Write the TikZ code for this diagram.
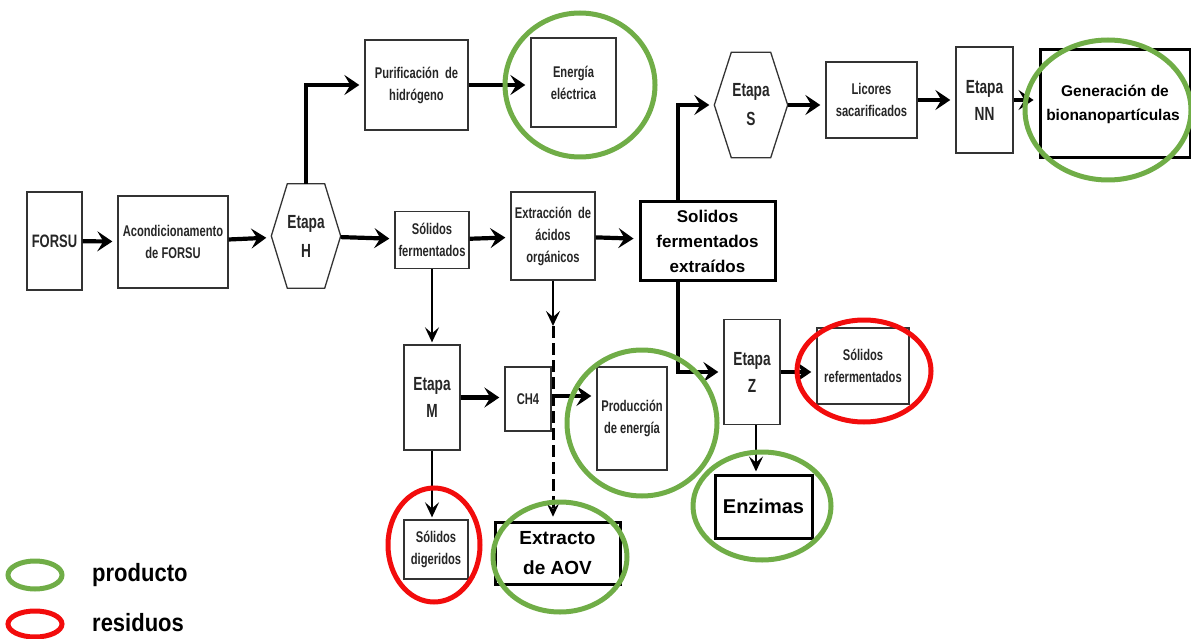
\documentclass[tikz,border=0pt]{standalone}
\usepackage{fontspec}
\setmainfont{Liberation Sans}
\newfontfamily\narrowsans[FakeStretch=0.72]{Liberation Sans}
\newfontfamily\legendsans[FakeStretch=0.88]{Liberation Sans}
\usetikzlibrary{arrows.meta}
\definecolor{prodgreen}{HTML}{70AD47}
\definecolor{wastered}{HTML}{F20C0C}

% outline of an elongated hexagon laid over a plain node
\newcommand\hexframe[2]{%
  \draw[hexline] ([xshift=#2pt]#1.north west) -- ([xshift=-#2pt]#1.north east)
    -- (#1.east) -- ([xshift=-#2pt]#1.south east)
    -- ([xshift=#2pt]#1.south west) -- (#1.west) -- cycle;}

\tikzset{
  box/.style={draw=black!80, line width=1.3pt, fill=white, align=center,
    inner sep=0pt, text=black!85,
    font=\narrowsans\bfseries\fontsize{15.5}{22}\selectfont},
  stagebox/.style={box, font=\narrowsans\bfseries\fontsize{19}{27}\selectfont},
  hexnode/.style={inner sep=0pt, align=center, text=black!85,
    font=\narrowsans\bfseries\fontsize{19}{29}\selectfont},
  hexline/.style={draw=black!80, line width=1.3pt, line join=miter},
  keybox/.style={draw=black, line width=3pt, fill=white, align=center,
    inner sep=0pt, font=\bfseries\fontsize{17}{25}\selectfont},
  flow/.style={draw=black, line width=4.2pt, shorten >=5pt,
    -{Stealth[length=15pt,width=20pt,inset=6pt]}},
  thinflow/.style={draw=black, line width=2.6pt, shorten >=2pt,
    -{Stealth[length=15pt,width=14pt,inset=6pt]}},
  dashflow/.style={draw=black, line width=3pt, dash pattern=on 12pt off 5pt,
    shorten >=2pt, -{Stealth[length=13pt,width=12pt,inset=5pt,sep]}},
  product/.style={draw=prodgreen, line width=5pt},
  waste/.style={draw=wastered, line width=5pt},
}

\begin{document}
\begin{tikzpicture}[x=1pt, y=-1pt]
\useasboundingbox (0,0) rectangle (1191,639);

% main line
\node[box, minimum width=55pt, minimum height=98pt,
  font=\narrowsans\bfseries\fontsize{18}{20}\selectfont] (forsu) at (54.5,241) {FORSU};
\node[box, minimum width=110pt, minimum height=92pt] (acond) at (173,242)
  {Acondicionamento\\de FORSU};
\node[hexnode, minimum width=69pt, minimum height=104pt] (etH) at (306,236) {Etapa\\H};
\hexframe{etH}{16}
\node[box, minimum width=74pt, minimum height=57pt] (solf) at (432,240)
  {Sólidos\\fermentados};
\node[box, minimum width=84pt, minimum height=88pt,
  font=\narrowsans\bfseries\fontsize{15.5}{22}\selectfont] (extr) at (553,236)
  {Extracción \ de\\ácidos\\orgánicos};
\node[keybox, minimum width=135pt, minimum height=78pt] (sfe) at (707.5,241)
  {Solidos\\fermentados\\extraídos};
\coordinate (br) at (678,241);

% hydrogen branch
\node[box, minimum width=103pt, minimum height=90pt] (puri) at (416.5,85)
  {Purificación \ de\\hidrógeno};
\node[box, minimum width=85pt, minimum height=89pt] (ener) at (573.5,82.5)
  {Energía\\eléctrica};

% upper branch
\node[hexnode, minimum width=73pt, minimum height=105pt] (etS) at (751,105) {Etapa\\S};
\hexframe{etS}{17}
\node[box, minimum width=91pt, minimum height=76pt] (lico) at (871.5,100)
  {Licores\\sacarificados};
\node[stagebox, minimum width=57pt, minimum height=106pt] (etNN) at (984.5,100) {Etapa\\NN};
\node[keybox, minimum width=150pt, minimum height=108pt,
  font=\bfseries\fontsize{15.5}{24}\selectfont] (gen) at (1115,104)
  {Generación de\\bionanopartículas\hspace*{4pt}};

% methane branch
\node[stagebox, minimum width=56pt, minimum height=105pt] (etM) at (432,397.5) {Etapa\\M};
\node[box, minimum width=46pt, minimum height=64pt] (ch4) at (528,399) {CH4};
\node[box, minimum width=70pt, minimum height=103pt] (prod) at (632,418.5)
  {Producción\\de energía};
\node[box, minimum width=64pt, minimum height=59pt] (digr) at (436,549.5)
  {Sólidos\\digeridos};
\node[keybox, minimum width=125pt, minimum height=62pt,
  font=\bfseries\fontsize{19}{30}\selectfont] (aov) at (557.5,553) {Extracto\\de AOV};

% lower branch
\node[stagebox, minimum width=56pt, minimum height=105pt] (etZ) at (752,372) {Etapa\\Z};
\node[box, minimum width=92pt, minimum height=76pt] (refe) at (863,366)
  {Sólidos\\refermentados};
\node[keybox, minimum width=97pt, minimum height=63pt,
  font=\bfseries\fontsize{20}{24}\selectfont] (enz) at (763.5,506.5) {Enzimas};

% connectors
\draw[flow] (forsu) -- (acond);
\draw[flow] (acond) -- (etH);
\draw[flow] (etH) -- (solf);
\draw[flow] (solf) -- (extr);
\draw[flow] (extr) -- (sfe);
\draw[flow] (etH.north) |- (puri.west);
\draw[flow] (puri) -- (ener.west |- puri.east);
\draw[flow] (sfe.north -| br) |- (etS.west);
\draw[flow] (sfe.south -| br) |- (etZ.west);
\draw[flow] (etS) -- (lico.west |- etS.east);
\draw[flow] (lico) -- (etNN);
\draw[flow] (etNN) -- (gen.west |- etNN.east);
\draw[thinflow] (solf.south) -- (etM.north);
\draw[flow] (etM) -- (ch4.west |- etM.east);
\draw[flow] ([yshift=3pt]ch4.east) -- ([yshift=3pt]ch4.east -| prod.west);
\draw[thinflow] (etM.south) -- (etM.south |- digr.north);
\coordinate (dsh) at (553,326);
\draw[thinflow, shorten >=0pt] (extr.south) -- (dsh);
\draw[dashflow] (dsh) -- (dsh |- aov.north);
\draw[flow] (etZ) -- (refe.west |- etZ.east);
\draw[thinflow] ([xshift=4pt]etZ.south) -- ([xshift=4pt]etZ.south |- enz.north);

% outcome rings
\draw[product] (580,85) ellipse [x radius=75, y radius=72];
\draw[product] (1108,110) ellipse [x radius=83, y radius=70];
\draw[product] (642,423) ellipse [x radius=75, y radius=73];
\draw[product] (560,557) ellipse [x radius=67, y radius=55];
\draw[product] (762,506) ellipse [x radius=69, y radius=54];
\draw[waste] (434,545) ellipse [x radius=46, y radius=57];
\draw[waste] (864,371) ellipse [x radius=67, y radius=51];

% legend
\draw[product] (35,575) ellipse [x radius=27, y radius=14];
\draw[waste] (35,624) ellipse [x radius=27, y radius=13];
\node[anchor=west, inner sep=0pt, font=\legendsans\bfseries\fontsize{25}{25}\selectfont]
  (lgp) at (92,575) {producto};
\node[anchor=west, inner sep=0pt, font=\legendsans\bfseries\fontsize{25}{25}\selectfont]
  (lgr) at (92,623) {residuos};
\end{tikzpicture}
\end{document}
